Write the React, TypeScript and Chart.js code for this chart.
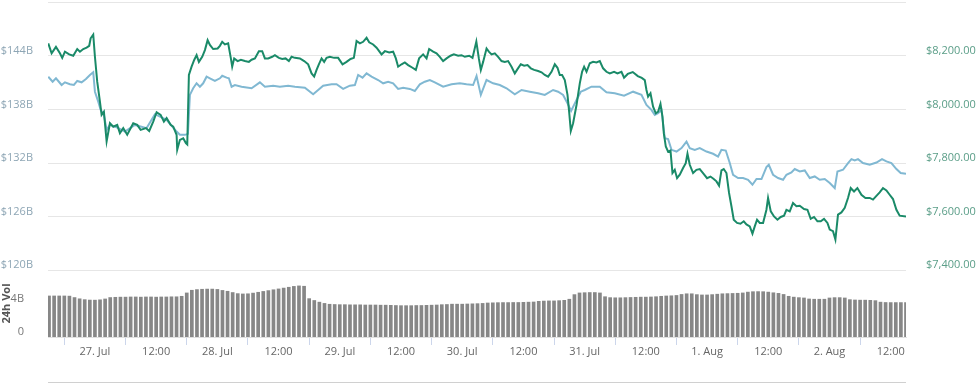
import React, { useEffect, useRef } from "react";
import { Chart, registerables } from "chart.js";

Chart.register(...registerables);

// Hours since 27 Jul 00:00
const priceHours = [-9.15,-8.49,-7.64,-6.86,-6.41,-5.88,-5.04,-4.25,-3.47,-2.94,-2.29,-1.63,-1.12,-0.84,-0.33,0,0.45,0.98,1.31,1.76,2.29,2.94,3.59,4.37,4.9,5.55,6.33,7.51,8.29,8.96,10,10.64,11.43,12.09,12.88,13.52,14.05,14.84,15.35,16.01,16.13,16.66,17.31,17.83,18.1,18.42,18.95,19.46,19.93,20.38,21.03,21.56,22.09,22.54,23.18,24.05,24.5,24.95,25.48,26.12,26.65,26.91,27.3,27.97,28.61,29.4,30.18,30.71,31.36,32.14,32.79,33.32,33.96,34.75,35.28,36.06,36.71,37.37,38.02,38.55,39.2,40.18,41.02,41.8,42.47,42.98,43.45,43.9,44.43,44.94,45.41,46.06,46.9,47.68,48.54,49.33,50.11,50.76,51.29,51.94,52.58,53.25,53.76,54.54,55.21,56.19,56.84,57.68,58.46,58.99,59.44,60.11,60.75,61.4,62.26,62.91,63.55,64.34,65.01,65.52,66.3,66.97,67.61,68.26,68.93,69.71,70.36,71.2,71.87,72.51,73.36,74.02,74.77,75.26,75.65,76.1,76.77,77.22,77.75,78.39,79.04,79.71,80.35,81,81.67,82.31,82.84,83.49,84.14,84.8,85.45,86.1,86.88,87.55,88.19,88.84,89.51,90.15,90.68,91.13,91.58,92.11,92.64,92.96,93.29,93.74,94.41,95.05,95.5,95.9,96.37,97.01,97.66,98.32,98.97,99.62,100.28,100.93,101.77,102.44,103.22,103.73,104.46,105.44,106.42,107.2,107.79,108.12,108.44,108.91,109.42,109.95,110.4,110.87,111.26,111.52,111.91,112.36,112.83,113.22,113.67,114.12,114.65,115.3,115.82,116.16,116.61,117.26,117.92,118.57,119.21,120,120.67,121.31,121.84,122.35,122.82,123.27,123.8,124.31,124.78,125.23,125.88,126.55,127.19,127.72,128.37,128.9,129.35,129.8,130.33,130.98,131.64,131.96,132.49,133.13,133.8,134.44,135.09,135.56,136.21,136.85,137.52,138.17,139.01,139.68,140.32,140.97,141.64,142.28,142.93,143.6,144.05,144.69,145.16,145.67,146.34,146.99,147.63,148.16,148.81,149.47,150.26,151.04,151.89,152.53,153.2,153.84,154.49,155.16,155.8,156.45,157.12,157.76,159];
const priceUsd = [8247,8210,8234,8210,8193,8216,8206,8201,8226,8216,8226,8231,8238,8266,8280,8197,8104,8030,7980,7992,7881,7949,7936,7943,7912,7931,7906,7949,7943,7924,7931,7920,7955,7990,7980,7955,7968,7943,7936,7906,7850,7887,7893,7875,7870,8129,8160,8185,8203,8178,8197,8222,8259,8241,8226,8228,8238,8253,8243,8247,8191,8160,8191,8181,8186,8181,8178,8186,8191,8218,8218,8191,8191,8197,8203,8193,8189,8191,8181,8197,8193,8191,8181,8169,8135,8123,8148,8169,8191,8178,8193,8197,8193,8193,8169,8178,8189,8193,8256,8247,8253,8268,8251,8243,8231,8206,8218,8213,8216,8191,8160,8169,8176,8166,8156,8148,8191,8206,8191,8226,8216,8210,8197,8181,8191,8201,8206,8201,8203,8197,8201,8193,8254,8191,8148,8178,8228,8216,8206,8210,8197,8181,8178,8181,8160,8135,8151,8169,8164,8166,8154,8148,8144,8139,8129,8123,8141,8169,8156,8129,8129,8110,8055,7992,7920,7949,8017,8098,8141,8160,8141,8173,8178,8176,8181,8154,8141,8135,8141,8135,8141,8119,8133,8140,8125,8118,8110,8073,8048,8061,8011,7986,7992,8021,7974,7912,7862,7843,7847,7763,7775,7744,7757,7782,7800,7835,7794,7763,7775,7778,7763,7744,7750,7741,7732,7716,7773,7778,7763,7689,7639,7589,7577,7574,7583,7571,7564,7537,7564,7589,7577,7577,7626,7670,7620,7601,7589,7599,7604,7626,7620,7651,7639,7641,7629,7626,7592,7599,7583,7583,7592,7577,7552,7546,7515,7608,7616,7633,7670,7707,7694,7707,7682,7670,7670,7664,7678,7691,7707,7698,7682,7666,7626,7604,7601];

const mcapHours = [-9.15,-8.29,-7.64,-6.53,-5.88,-4.9,-4.12,-3.47,-2.61,-1.76,-0.98,-0.33,0,0.65,1.12,1.76,2.29,2.94,4.51,5.88,7.84,10.13,11.76,14.05,16.01,16.66,17.64,18.23,18.62,19.26,19.93,20.58,21.22,21.89,22.54,23.52,24.5,24.95,25.81,26.26,26.79,27.44,28.75,30.71,32.34,33.32,34.94,36.26,37.88,39.2,41.16,42.78,43.76,44.74,46.39,47.37,48.66,49.97,50.96,51.6,52.46,53.25,54.23,55.52,56.5,57.48,58.46,59.44,60.42,61.73,62.71,63.69,64.67,65.65,66.63,68.26,69.91,71.53,72.85,74.14,74.81,75.65,76.77,78.06,79.37,80.69,82.31,83.63,85.25,86.88,88.19,89.82,90.8,91.78,92.64,93.35,94.41,95.25,96.03,97.34,98.97,100.28,101.91,103.73,105.5,107.14,108.12,109.1,109.75,110.4,111.06,111.71,112.36,113.03,114.01,114.99,115.97,116.61,117.59,118.57,119.88,121.18,122.16,122.82,123.67,124.45,125.1,126.08,127.06,128.04,128.9,129.69,130.67,131.64,132.1,132.94,133.92,134.9,135.56,136.54,137.19,138.17,139.15,140.13,141.11,142.09,143.07,144.05,145.03,145.56,146.66,147.64,148.3,148.95,149.59,150.57,151.89,153.2,154.3,155.16,156.14,157.12,157.96,159];
const mcapBillions = [141.68,141.12,141.5,140.75,141.05,140.83,140.75,141.2,141.05,141.42,141.87,142.17,140,138.89,137.96,137.4,135.73,136.28,135.95,135.54,136.28,135.92,137.48,136.84,135.54,135.17,135.17,135.28,139.64,140.38,140.94,140.56,140.94,141.68,141.5,141.2,141.5,141.79,141.57,141.5,140.56,140.75,140.56,140.38,141.05,140.56,140.67,140.56,140.67,140.56,140.45,139.71,140.19,140.67,140.83,140.83,140.31,140.67,140.75,141.87,141.57,142.06,141.68,141.31,140.94,141.12,140.94,140.31,140.45,140.31,140.08,140.83,141.12,141.31,141.05,140.56,140.83,140.94,140.83,140.75,141.76,139.64,141.31,140.94,140.75,140.38,139.71,140.19,140,139.83,139.64,140.19,140,139.64,138.71,137.85,139.08,140,140.19,140.56,140.56,139.94,139.83,139.56,140,139.64,138.52,137.96,137.4,137.59,137.96,134.8,134.69,133.49,133.3,133.68,134.42,133.68,133.49,133.68,133.3,133.05,132.74,133.49,133.41,132.01,130.7,130.33,130.33,130.14,129.58,130.22,130.22,131.56,131.82,130.7,130.33,130.14,130.7,130.96,131.34,131.07,131.18,130.33,130.51,130.14,130.22,129.77,129.21,131.07,131.26,132.01,132.45,132.3,132.45,132.01,131.82,132.07,132.45,132.19,132.01,131.34,130.89,130.81];

// hourly volume bars, from 26 Jul 15:00 (hour -9) to 2 Aug 15:00 (hour 159)
const volumeStartHour = -9;
const volumeBillions = [4.94,4.94,4.94,4.94,4.92,4.75,4.6,4.5,4.45,4.44,4.48,4.58,4.75,4.78,4.8,4.8,4.82,4.82,4.8,4.82,4.82,4.8,4.82,4.82,4.84,4.84,4.9,5.3,5.62,5.7,5.74,5.76,5.76,5.72,5.6,5.5,5.35,5.22,5.18,5.2,5.28,5.38,5.48,5.58,5.68,5.78,5.88,5.98,6.08,6.14,6.1,4.62,4.4,4.2,4.05,3.95,3.92,3.9,3.9,3.88,3.88,3.88,3.86,3.86,3.86,3.84,3.84,3.82,3.8,3.78,3.78,3.78,3.8,3.8,3.82,3.84,3.86,3.9,3.92,3.96,3.96,3.96,3.98,4,4.02,4.05,4.1,4.12,4.14,4.15,4.15,4.16,4.16,4.18,4.2,4.22,4.3,4.33,4.35,4.35,4.38,4.42,4.55,5.1,5.3,5.33,5.35,5.35,5.3,4.85,4.74,4.72,4.72,4.74,4.76,4.78,4.8,4.8,4.82,4.85,4.9,4.94,4.96,5,5.12,5.2,5.2,5.1,5.06,5.06,5.1,5.15,5.2,5.22,5.24,5.26,5.3,5.4,5.45,5.46,5.45,5.4,5.32,5.25,5.12,4.9,4.8,4.74,4.7,4.58,4.55,4.55,4.55,4.7,4.74,4.74,4.7,4.5,4.46,4.44,4.44,4.42,4.38,4.2,4.16,4.15,4.15,4.15,4.15];

const xTickHours = [0, 12, 24, 36, 48, 60, 72, 84, 96, 108, 120, 132, 144, 156];
const xTickLabels = ["27. Jul", "12:00", "28. Jul", "12:00", "29. Jul", "12:00", "30. Jul", "12:00", "31. Jul", "12:00", "1. Aug", "12:00", "2. Aug", "12:00"];
const mcapTicks = [120, 126, 132, 138, 144, 150];
const priceTicks = [7400, 7600, 7800, 8000, 8200, 8400];
const volumeTicks = [0, 4];

const X_MIN = -9.2;
const X_MAX = 159;
const FONT = "'Open Sans', 'DejaVu Sans', sans-serif";

export default function App() {
  const topRef = useRef<HTMLCanvasElement>(null);
  const botRef = useRef<HTMLCanvasElement>(null);

  useEffect(() => {
    Chart.defaults.font.family = FONT;
    const top = new Chart(topRef.current!, {
      type: "line",
      data: {
        datasets: [
          {
            label: "Price (USD)",
            data: priceHours.map((h, i) => ({ x: h, y: priceUsd[i] })),
            yAxisID: "yUsd",
            borderColor: "#1a8a68",
            borderWidth: 2,
            pointRadius: 0,
            tension: 0,
          },
          {
            label: "Market Cap",
            data: mcapHours.map((h, i) => ({ x: h, y: mcapBillions[i] })),
            yAxisID: "yCap",
            borderColor: "#80b8d2",
            borderWidth: 2,
            pointRadius: 0,
            tension: 0,
          },
        ],
      },
      options: {
        animation: false,
        responsive: false,
        devicePixelRatio: 1,
        layout: { padding: { top: 2.4, bottom: 9.7, left: 0, right: 0 } },
        plugins: { legend: { display: false }, tooltip: { enabled: false } },
        events: [],
        scales: {
          x: { type: "linear", display: false, min: X_MIN, max: X_MAX },
          yCap: {
            type: "linear",
            position: "left",
            min: 120,
            max: 150,
            afterBuildTicks: (s: any) => { s.ticks = mcapTicks.map((v) => ({ value: v })); },
            afterFit: (s: any) => { s.width = 48; s.paddingTop = 0; s.paddingBottom = 0; },
            ticks: {
              callback: (v: any) => (v === 150 ? "" : "$" + v + "B"),
              color: "#8ea6b5",
              font: { size: 11, family: FONT },
              padding: 15,
              labelOffset: -5,
            },
            grid: { color: "#e6e6e6", drawTicks: false, lineWidth: 1 },
            border: { display: false },
          },
          yUsd: {
            type: "linear",
            position: "right",
            min: 7400,
            max: 8400,
            afterBuildTicks: (s: any) => { s.ticks = priceTicks.map((v) => ({ value: v })); },
            afterFit: (s: any) => { s.width = 74; s.paddingTop = 0; s.paddingBottom = 0; },
            ticks: {
              callback: (v: any) => (v === 8400 ? "" : "$" + Number(v).toLocaleString("en-US", { minimumFractionDigits: 2 })),
              color: "#5b9e88",
              font: { size: 11, family: FONT },
              padding: 12,
              labelOffset: -5,
            },
            grid: { display: false },
            border: { display: false },
          },
        },
      },
    });

    const navLine = {
      id: "navLine",
      afterDraw(chart: any) {
        const { ctx, chartArea } = chart;
        ctx.save();
        ctx.strokeStyle = "#d0d0d0";
        ctx.lineWidth = 1;
        ctx.beginPath();
        ctx.moveTo(chartArea.left, chart.height - 2.5);
        ctx.lineTo(chartArea.right, chart.height - 2.5);
        ctx.stroke();
        ctx.restore();
      },
    };

    const bot = new Chart(botRef.current!, {
      type: "bar",
      data: {
        datasets: [
          {
            label: "24h Vol",
            data: volumeBillions.map((v, i) => ({ x: volumeStartHour + i, y: v })),
            xAxisID: "x",
            yAxisID: "yVol",
            backgroundColor: "#878787",
            borderWidth: 0,
            barPercentage: 1,
            categoryPercentage: 0.72,
          },
        ],
      },
      options: {
        animation: false,
        responsive: false,
        devicePixelRatio: 1,
        events: [],
        layout: { padding: { top: 0, bottom: 0, left: 0, right: 74 } },
        plugins: { legend: { display: false }, tooltip: { enabled: false } },
        scales: {
          x: {
            type: "linear",
            min: X_MIN,
            max: X_MAX,
            offset: false,
            afterBuildTicks: (s: any) => { s.ticks = xTickHours.map((v) => ({ value: v })); },
            afterFit: (s: any) => { s.height = 48; s.paddingLeft = 0; s.paddingRight = 0; },
            ticks: {
              callback: (v: any) => xTickLabels[xTickHours.indexOf(Number(v))] ?? "",
              color: "#666666",
              font: { size: 11, family: FONT },
              padding: 0,
              autoSkip: false,
              maxRotation: 0,
            },
            grid: { display: true, drawOnChartArea: false, drawTicks: true, tickLength: 8, color: "#ccd6eb" },
            border: { display: true, color: "#e0e0e0" },
          },
          yVol: {
            type: "linear",
            position: "left",
            min: 0,
            max: 8,
            afterBuildTicks: (s: any) => { s.ticks = volumeTicks.map((v) => ({ value: v })); },
            afterFit: (s: any) => { s.width = 48; s.paddingTop = 0; s.paddingBottom = 0; },
            ticks: {
              callback: (v: any) => (v === 0 ? "0" : v + "B"),
              color: "#777777",
              font: { size: 11, family: FONT },
              padding: 16,
              labelOffset: -5,
            },
            title: {
              display: true,
              text: "24h Vol",
              color: "#555555",
              font: { size: 11, weight: "bold", family: FONT },
              padding: { top: 0, bottom: 0 },
            },
            grid: { display: false },
            border: { display: false },
          },
        },
      },
      plugins: [navLine],
    });

    return () => {
      top.destroy();
      bot.destroy();
    };
  }, []);

  return (
    <div style={{ position: "absolute", left: 0, top: 0, width: 980, height: 385, background: "#ffffff", overflow: "hidden" }}>
      <canvas ref={botRef} width={980} height={115} style={{ position: "absolute", left: 0, top: 270, width: 980, height: 115 }} />
      <canvas ref={topRef} width={980} height={280} style={{ position: "absolute", left: 0, top: 0, width: 980, height: 280 }} />
    </div>
  );
}
